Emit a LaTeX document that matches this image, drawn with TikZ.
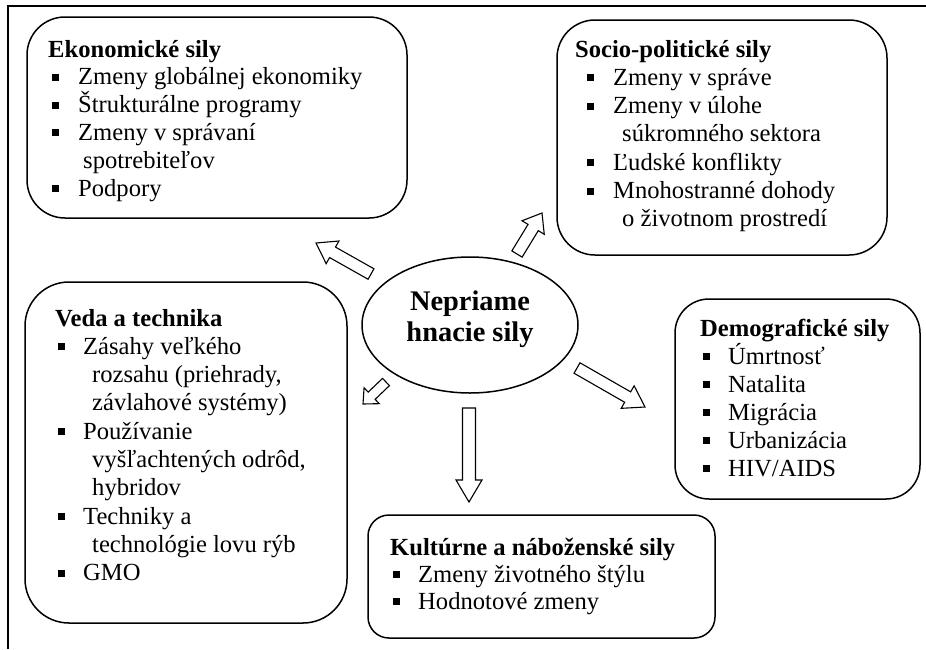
\documentclass[tikz,border=0pt]{standalone}
\usepackage{fontspec}
\setmainfont{Liberation Serif}
\usetikzlibrary{shapes.geometric,calc}

% list layout: bullet offset, text offset, continuation offset
\newlength\bloff
\newlength\txoff
\newlength\cnoff
\newcommand\bttl[1]{\textbf{#1}\par}
\newcommand\bitm[1]{\makebox[\txoff][l]{\hspace{\bloff}\rule[4pt]{7pt}{7pt}}#1\par}
\newcommand\bcnt[1]{\hspace*{\cnoff}#1\par}
\newcommand\blist[4]{\begin{minipage}[t]{420pt}\raggedright\setlength\parindent{0pt}\setlength\parskip{0pt}%
  \setlength\bloff{#1}\setlength\txoff{#2}\setlength\cnoff{#3}#4\end{minipage}}

% outlined block arrow from #1 to #2: shaft half width #3, head half width #4, head length #5
\newcommand\blockarrow[5]{%
  \coordinate (#1h) at ($(#2)!#5!(#1)$);
  \draw[barrow] ($(#1)!#3!90:(#2)$) -- ($(#1h)!#3!90:(#2)$) -- ($(#1h)!#4!90:(#2)$)
    -- (#2) -- ($(#1h)!#4!-90:(#2)$) -- ($(#1h)!#3!-90:(#2)$) -- ($(#1)!#3!-90:(#2)$) -- cycle;}

\tikzset{
  frame/.style={line width=1.4pt},
  forcebox/.style={draw, line width=1.5pt, inner sep=0pt, rectangle},
  listtxt/.style={anchor=base west, inner sep=0pt, font=\fontsize{24.6}{#1}\selectfont},
  barrow/.style={draw, line width=1.1pt, fill=white, line join=miter},
}

\begin{document}
\begin{tikzpicture}[x=1pt,y=-1pt]
\useasboundingbox (0,0) rectangle (926,649);

% page frame (top and left edges)
\coordinate (fbl) at (8,649);
\coordinate (ftl) at (8,6);
\coordinate (ftr) at (926,6);
\draw[frame] (fbl) -- (ftl) -- (ftr);

% central ellipse
\node[draw, ellipse, line width=1.5pt, minimum width=216pt, minimum height=136pt, inner sep=0pt] (ell) at (470,325) {};
\node[align=center, inner sep=0pt, font=\fontsize{28.4}{31}\selectfont\bfseries] (elltxt) at (470,319) {Nepriame\\hnacie sily};

% boxes
\node[forcebox, rounded corners=38pt, minimum width=380pt, minimum height=201pt] (eko) at (217,117.5) {};
\node[forcebox, rounded corners=38pt, minimum width=330pt, minimum height=235pt] (soc) at (722,137.5) {};
\node[forcebox, rounded corners=44pt, minimum width=322pt, minimum height=341pt] (veda) at (186,452.5) {};
\node[forcebox, rounded corners=34pt, minimum width=245pt, minimum height=200pt] (demo) at (797.5,399) {};
\node[forcebox, rounded corners=21pt, minimum width=347pt, minimum height=123pt] (kult) at (541.5,576.5) {};

% box texts
\node[listtxt=27.8] (ekoT) at (48,57) {\blist{4pt}{30pt}{35pt}{%
  \bttl{Ekonomické sily}
  \bitm{Zmeny globálnej ekonomiky}
  \bitm{Štrukturálne programy}
  \bitm{Zmeny v správaní}
  \bcnt{spotrebiteľov}
  \bitm{Podpory}}};

\node[listtxt=28.3] (socT) at (575,57) {\blist{12pt}{38pt}{47pt}{%
  \bttl{Socio-politické sily}
  \bitm{Zmeny v správe}
  \bitm{Zmeny v úlohe}
  \bcnt{súkromného sektora}
  \bitm{Ľudské konflikty}
  \bitm{Mnohostranné dohody}
  \bcnt{o životnom prostredí}}};

\node[listtxt=28.3] (vedaT) at (55,326) {\blist{3pt}{28pt}{37pt}{%
  \bttl{Veda a technika}
  \bitm{Zásahy veľkého}
  \bcnt{rozsahu (priehrady,}
  \bcnt{závlahové systémy)}
  \bitm{Používanie}
  \bcnt{vyšľachtených odrôd,}
  \bcnt{hybridov}
  \bitm{Techniky a}
  \bcnt{technológie lovu rýb}
  \bitm{GMO}}};

\node[listtxt=28] (demoT) at (700,336) {\blist{3pt}{28pt}{37pt}{%
  \bttl{Demografické sily}
  \bitm{Úmrtnosť}
  \bitm{Natalita}
  \bitm{Migrácia}
  \bitm{Urbanizácia}
  \bitm{HIV/AIDS}}};

\node[listtxt=27] (kultT) at (390,555) {\blist{3pt}{28pt}{37pt}{%
  \bttl{Kultúrne a náboženské sily}
  \bitm{Zmeny životného štýlu}
  \bitm{Hodnotové zmeny}}};

% arrows from the ellipse towards the boxes
\coordinate (a1s) at (371,274); \coordinate (a1e) at (316,243);
\coordinate (a2s) at (517,254); \coordinate (a2e) at (542,213);
\coordinate (a3s) at (469,408); \coordinate (a3e) at (469,502);
\coordinate (a4s) at (386,382); \coordinate (a4e) at (363,404);
\coordinate (a5s) at (577,368); \coordinate (a5e) at (645,407);
\blockarrow{a1s}{a1e}{6pt}{13pt}{19pt}
\blockarrow{a2s}{a2e}{6pt}{13pt}{17pt}
\blockarrow{a3s}{a3e}{6.5pt}{13pt}{22pt}
\blockarrow{a4s}{a4e}{5pt}{11pt}{12pt}
\blockarrow{a5s}{a5e}{6pt}{13pt}{20pt}
\end{tikzpicture}
\end{document}
